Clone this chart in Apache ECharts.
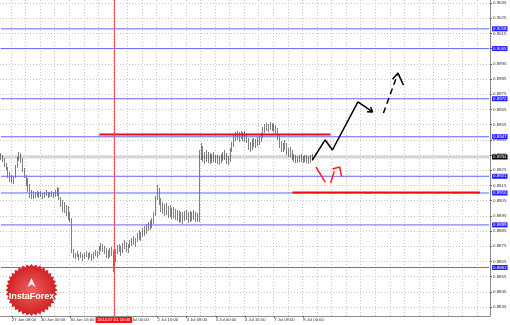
<!DOCTYPE html>
<html><head><meta charset="utf-8">
<script src="https://cdn.jsdelivr.net/npm/echarts@6/dist/echarts.min.js"></script>
<style>html,body{margin:0;padding:0;background:#fff}#c{width:510px;height:325px}</style>
</head><body><div id="c"></div>
<script>
// ---- data (USD/CHF H1) ----
const firstOpen = 0.89350;
const closes = [
0.89330,0.89317,0.89284,0.89264,0.89218,0.89199,0.89186,0.89199,0.89271,0.89317,
0.89350,0.89317,0.89251,0.89212,0.89172,0.89133,0.89093,0.89080,0.89093,0.89087,
0.89100,0.89080,0.89093,0.89074,0.89087,0.89100,0.89080,0.89087,0.89093,0.89080,
0.89100,0.89126,0.89067,0.89021,0.89034,0.88988,0.89001,0.88955,0.88929,0.88725,
0.88699,0.88685,0.88699,0.88679,0.88692,0.88672,0.88685,0.88699,0.88679,0.88692,
0.88672,0.88685,0.88705,0.88692,0.88738,0.88751,0.88725,0.88712,0.88692,0.88685,
0.88725,0.88705,0.88685,0.88712,0.88738,0.88725,0.88705,0.88758,0.88778,0.88738,
0.88751,0.88771,0.88791,0.88771,0.88791,0.88824,0.88804,0.88830,0.88850,0.88837,
0.88870,0.88889,0.88876,0.88916,0.88955,0.89067,0.89120,0.89041,0.89014,0.88988,
0.89008,0.88975,0.88995,0.88962,0.88982,0.88955,0.88968,0.88942,0.88955,0.88935,
0.88949,0.88962,0.88942,0.88955,0.88935,0.88955,0.88935,0.88949,0.88929,0.89350,
0.89383,0.89330,0.89317,0.89343,0.89324,0.89311,0.89337,0.89317,0.89330,0.89311,
0.89304,0.89330,0.89350,0.89363,0.89317,0.89304,0.89383,0.89416,0.89462,0.89482,
0.89468,0.89488,0.89475,0.89462,0.89482,0.89449,0.89403,0.89416,0.89436,0.89422,
0.89442,0.89449,0.89462,0.89482,0.89514,0.89534,0.89547,0.89541,0.89554,0.89534,
0.89547,0.89514,0.89468,0.89416,0.89409,0.89396,0.89416,0.89370,0.89383,0.89357,
0.89337,0.89330,0.89317,0.89330,0.89337,0.89324,0.89317,0.89337,0.89324,0.89311,
0.89330,0.89337];
const highs = [
0.89363,0.89350,0.89330,0.89297,0.89271,0.89238,0.89218,0.89212,0.89284,0.89337,
0.89370,0.89363,0.89330,0.89264,0.89218,0.89199,0.89159,0.89120,0.89113,0.89107,
0.89113,0.89107,0.89113,0.89100,0.89107,0.89120,0.89107,0.89107,0.89113,0.89107,
0.89120,0.89139,0.89133,0.89074,0.89054,0.89041,0.89021,0.89014,0.88975,0.88935,
0.88732,0.88705,0.88718,0.88699,0.88712,0.88699,0.88705,0.88718,0.88705,0.88712,
0.88699,0.88712,0.88725,0.88718,0.88751,0.88771,0.88764,0.88751,0.88738,0.88725,
0.88738,0.88745,0.88725,0.88732,0.88758,0.88764,0.88751,0.88771,0.88791,0.88778,
0.88764,0.88791,0.88804,0.88817,0.88804,0.88837,0.88857,0.88844,0.88870,0.88883,
0.88896,0.88909,0.88922,0.88935,0.88975,0.89080,0.89153,0.89133,0.89067,0.89041,
0.89028,0.89034,0.89014,0.89021,0.89001,0.89008,0.88995,0.88988,0.88982,0.88975,
0.88975,0.88982,0.88988,0.88975,0.88982,0.88975,0.88988,0.88975,0.88968,0.89383,
0.89429,0.89409,0.89370,0.89383,0.89370,0.89363,0.89357,0.89370,0.89350,0.89350,
0.89343,0.89357,0.89370,0.89383,0.89350,0.89343,0.89396,0.89436,0.89482,0.89501,
0.89508,0.89501,0.89508,0.89501,0.89508,0.89495,0.89462,0.89436,0.89455,0.89462,
0.89455,0.89468,0.89475,0.89495,0.89534,0.89554,0.89561,0.89554,0.89567,0.89561,
0.89554,0.89547,0.89528,0.89482,0.89442,0.89429,0.89449,0.89429,0.89396,0.89403,
0.89383,0.89357,0.89350,0.89343,0.89350,0.89357,0.89343,0.89350,0.89350,0.89343,
0.89350,0.89357];
const lows = [
0.89317,0.89304,0.89271,0.89251,0.89199,0.89172,0.89166,0.89159,0.89199,0.89264,
0.89311,0.89297,0.89238,0.89199,0.89146,0.89107,0.89067,0.89060,0.89060,0.89067,
0.89074,0.89067,0.89074,0.89060,0.89067,0.89080,0.89067,0.89074,0.89074,0.89067,
0.89074,0.89080,0.89054,0.89008,0.88975,0.88968,0.88949,0.88922,0.88909,0.88705,
0.88672,0.88666,0.88679,0.88659,0.88672,0.88653,0.88666,0.88679,0.88659,0.88672,
0.88653,0.88666,0.88685,0.88672,0.88692,0.88718,0.88712,0.88699,0.88672,0.88666,
0.88679,0.88685,0.88580,0.88646,0.88699,0.88712,0.88685,0.88705,0.88732,0.88712,
0.88705,0.88738,0.88751,0.88758,0.88745,0.88778,0.88791,0.88784,0.88811,0.88817,
0.88830,0.88850,0.88857,0.88870,0.88896,0.88949,0.89054,0.89021,0.88975,0.88962,
0.88949,0.88955,0.88935,0.88942,0.88929,0.88935,0.88922,0.88916,0.88903,0.88909,
0.88896,0.88916,0.88922,0.88903,0.88909,0.88916,0.88922,0.88909,0.88909,0.88909,
0.89317,0.89304,0.89291,0.89304,0.89297,0.89291,0.89297,0.89304,0.89297,0.89291,
0.89284,0.89297,0.89311,0.89317,0.89291,0.89284,0.89304,0.89370,0.89403,0.89442,
0.89449,0.89436,0.89455,0.89442,0.89436,0.89429,0.89383,0.89370,0.89383,0.89403,
0.89396,0.89409,0.89416,0.89436,0.89462,0.89495,0.89508,0.89501,0.89514,0.89508,
0.89501,0.89488,0.89449,0.89396,0.89370,0.89370,0.89383,0.89350,0.89337,0.89337,
0.89317,0.89304,0.89297,0.89297,0.89304,0.89304,0.89297,0.89304,0.89297,0.89291,
0.89297,0.89311];

const yTicks = [0.8835,0.8845,0.8855,0.8865,0.8875,0.8885,0.8895,0.8905,0.8915,0.8925,
  0.8935,0.8945,0.8955,0.8965,0.8975,0.8985,0.8995,0.9005,0.9015,0.9025,0.9035];
const yMin = 0.882908, yMax = 0.903697;
const blueLevels = [0.9018, 0.9005, 0.8972, 0.8947, 0.8921, 0.8910, 0.8889, 0.8861];
const redUpper = [['1 Jul 08:00', 0.89485], ['8 Jul 15:00', 0.89485]];
const redLower = [['7 Jul 18:00', 0.89103], ['14 Jul 01:00', 0.89103]];
const markedTime = '1 Jul 16:00';
const markedTimeLabel = '2014.07.01 16:00';
const forecastMain = [['8 Jul 05:00',0.89317],['8 Jul 12:00',0.89449],['8 Jul 16:00',0.89383],['9 Jul 06:00',0.89699],['9 Jul 14:00',0.89633]];
const forecastMainHead = [['9 Jul 13:00',0.89666],['9 Jul 14:00',0.89633],['9 Jul 11:00',0.89635]];
const forecastAlt = [['9 Jul 20:00',0.89626],['10 Jul 04:00',0.89889]];
const forecastAltHead = [['10 Jul 01:00',0.89848],['10 Jul 04:00',0.89889],['10 Jul 07:00',0.89810]];
const redArrowA = [['8 Jul 07:00',0.89271],['8 Jul 12:00',0.89172]];
const redArrowB = [['8 Jul 15:00',0.89166],['8 Jul 17:00',0.89242]];
const redArrowHead = [['8 Jul 16:00',0.89258],['8 Jul 20:00',0.89271],['8 Jul 21:00',0.89207]];

// ---- axis categories: hourly trading bars (weekends skipped) ----
const N_CATS = 269;
const MON = ['Jan','Feb','Mar','Apr','May','Jun','Jul','Aug','Sep','Oct','Nov','Dec'];
const categories = [];
(function(){
  let t = Date.UTC(2014,5,27,2);
  while (categories.length < N_CATS) {
    const d = new Date(t), wd = d.getUTCDay();
    if (wd !== 0 && wd !== 6) categories.push(d.getUTCDate()+' '+MON[d.getUTCMonth()]+' '+String(d.getUTCHours()).padStart(2,'0')+':00');
    t += 3600000;
  }
})();
const lastBar = closes.length - 1;
const showLabel = (i) => i >= 6 && i <= lastBar && (i - 6) % 16 === 0;
const showGrid = (i) => i >= 6 && (i - 6) % 8 === 0;

const candles = closes.map((c,i)=>{const o = i ? closes[i-1] : firstOpen;
  return [o, c, Math.min(lows[i],o,c), Math.max(highs[i],o,c)];});

// logo star shape
const star = [];
for (let k=0;k<72;k++){const a=k*Math.PI/36, r=(k%2)?23.5:26; star.push([31.5+r*Math.cos(a), 290+r*Math.sin(a)]);}

const FONT = 'Liberation Sans';
const chart = echarts.init(document.getElementById('c'), null, {renderer:'canvas'});
const lineS = (data, color, width, type, z) => ({type:'line', data, symbol:'none', silent:true, z,
  lineStyle:{color, width, type: type||'solid'}, animation:false});
const levelS = (v, color, width, z, bg) => ({type:'line', symbol:'none', silent:true, z, animation:false,
  data:[[categories[0], v], [categories[N_CATS-1], v]],
  lineStyle:{color, width, type:'solid'},
  endLabel:{show:true, distance:3, formatter:()=>v.toFixed(4), backgroundColor:bg, color:'#fff',
    fontSize:4.4, padding:[1,1,0,1], fontFamily:FONT}});
const lastClose = closes[lastBar];
chart.setOption({
  animation:false,
  backgroundColor:'#ffffff',
  grid:{left:0, right:20, top:0, bottom:9, outerBoundsMode:'none', containLabel:false},
  xAxis:{type:'category', data:categories, boundaryGap:true,
    axisLine:{show:true, lineStyle:{color:'#8c8c8c', width:1}},
    axisTick:{show:true, alignWithLabel:true, length:2, interval:showLabel, lineStyle:{color:'#666'}},
    axisLabel:{interval:showLabel, align:'left', fontSize:4.2, color:'#333', margin:2, fontFamily:FONT},
    splitLine:{show:true, interval:showGrid, lineStyle:{color:'#c8c8c8', width:1, type:[1,2]}}},
  yAxis:{type:'value', position:'right', min:yMin, max:yMax, scale:true,
    axisLine:{show:true, lineStyle:{color:'#8c8c8c', width:1}},
    axisTick:{show:true, length:2, customValues:yTicks, lineStyle:{color:'#666'}},
    axisLabel:{customValues:yTicks, formatter:v=>v.toFixed(4), fontSize:4.4, color:'#333', margin:3, fontFamily:FONT},
    splitLine:{show:true, lineStyle:{color:'#c8c8c8', width:1, type:[1,2]}}},
  series:[
    levelS(lastClose, '#d6d6d6', 3, 1, '#000'),
    {type:'candlestick', data:candles, barWidth:1, z:2, silent:true,
      itemStyle:{color:'#000', color0:'#000', borderColor:'#000', borderColor0:'#000', borderWidth:0.5},
      markLine:{symbol:'none', silent:true, animation:false,
        data:[{xAxis:markedTime}],
        lineStyle:{color:'#ff5050', width:1, type:'solid'},
        label:{show:true, position:'start', distance:1, formatter:()=>markedTimeLabel,
          backgroundColor:'#ff1010', color:'#fff', fontSize:4.2, padding:[1,2,1,2], fontFamily:FONT}}}
  ].concat(blueLevels.map(v => levelS(v, '#6464ff', 1, 3, '#1f1fff'))).concat([
    lineS(redUpper, '#e80c0c', 2, 'solid', 4),
    lineS(redLower, '#e80c0c', 2, 'solid', 4),
    lineS(forecastMain, '#000', 1.5, 'solid', 5),
    lineS(forecastMainHead, '#000', 1.5, 'solid', 5),
    lineS(forecastAlt, '#000', 1.5, [6,4], 5),
    lineS(forecastAltHead, '#000', 1.5, 'solid', 5),
    lineS(redArrowA, '#ff2020', 1.5, 'solid', 5),
    lineS(redArrowB, '#ff2020', 1.5, 'solid', 5),
    lineS(redArrowHead, '#ff2020', 1.5, 'solid', 5)
  ]),
  graphic:[
    {type:'polygon', shape:{points:star}, z:100, silent:true,
      style:{fill:{type:'radial', x:0.5, y:0.5, r:0.5, colorStops:[{offset:0,color:'#f26060'},{offset:1,color:'#cc2020'}]}}},
    {type:'polygon', shape:{points:[[27.5,287],[31.5,278],[35.5,287],[31.5,284.5]]}, z:101, silent:true, style:{fill:'#ffffff'}},
    {type:'text', x:31.5, y:297, z:101, silent:true,
      style:{text:'InstaForex', fill:'#ffffff', font:'bold 9px "Liberation Sans"', align:'center', verticalAlign:'middle'}}
  ]
});
</script></body></html>
